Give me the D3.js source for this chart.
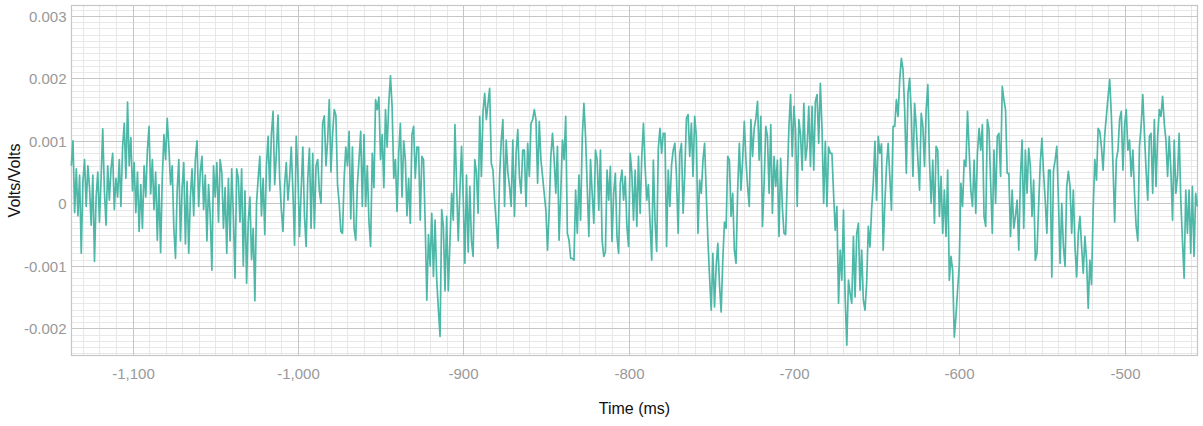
<!DOCTYPE html>
<html>
<head>
<meta charset="utf-8">
<script src="https://cdn.jsdelivr.net/npm/d3@7"></script>
<style>
  html, body { margin: 0; padding: 0; background: #fff; }
  svg { display: block; font-family: "Liberation Sans", Arial, Helvetica, sans-serif; }
</style>
</head>
<body>
<svg id="chart" width="1203" height="426"></svg>
<script>
// Recorded trace, one sample per millisecond starting at startTime.
// Values are in units of 10 µV (multiply by valueUnit to get volts).
const startTime = -1137;
const sampleStep = 1;
const valueUnit = 1e-5;
const signal = [
  60, 100, -15, 55, -20, 45, -80, 35, 70, -5, 60,
  25, -35, 45, -93, 10, 50, -30, 40, 119, 20,
  -35, 60, 5, 55, 80, -10, 40, 10, 70, -5,
  90, 128, 40, 162, 60, 105, 20, 65, -15, 50,
  -45, 30, -40, 60, 10, 85, 123, 15, 70, -10,
  50, -59, 30, -79, 40, 110, 70, 136, 90, 30,
  60, -40, -88, 20, 70, -60, 25, 65, -65, 35,
  -80, 10, 55, -20, 70, 100, -5, 50, 75, -10,
  45, -60, 30, -20, -107, 60, 10, 65, -30, 70,
  50, -40, 25, -80, 40, -60, 55, -20, -120, 55,
  40, -30, 55, -100, 20, -128, -30, 10, -90, -40,
  -156, 0, 40, 75,
  -20, 40, -50, 60, 107, 20, 110, 147, 30, 80,
  141, 40, -10, -45, 30, 65, 5, 40, 90, 20,
  -67, 107, 50, -53, 20, 90, -20, -69, 40, 88,
  -40, 80, -40, 60, 70, 20, 0, 128, 140, 60,
  100, 166, 50, 110, 150, 141, 30, 0, -45, -48,
  40, 90, 60, 115, -25, 90, -40, -59, 30, 70,
  115, -5, 110, -5, 60, -30, -69, 80, 25, 166,
  150, 170, 70, 110, 25, 150, 90, 160, 204, 155,
  40, 70, -13, 80, 128, 10, 100, 70, -20, 40,
  -32, 110, 123, 40, 90, 90, -27, 75, 70, -32,
  -155, -50, -100, -16, -117, -27, -123, -170, -213, -10,
  -37, -140, -21, -140, -60,
  16, -27, 126, 30, -60, 20, 91, 10, -96, 45,
  -78, 27, -60, -85, 70, 50, -16, 139, 43, 147,
  176, 134, 160, 184, 64, 53, 5, -32, -72, 43,
  100, 134, -5, 101, 50, 27, -5, 101, -21, 80,
  118, 43, 16, 85, 85, -5, 96, 43, 128, 134,
  150, 134, 32, 131, 70, 43, 16, -11, -75, -11,
  75, 112, 70, 16, 91, -59, 16, 101, 70, 139,
  -48, -59, -88, -88, -91, 21, -48, 45, -27, 104,
  160, 107, 27, -53, 70, 16, -32, 85, 70, -11,
  85, -59, -85, -78, 53, 5, 59, -61, 16, 48,
  -53, -80, 32, 53, 5, 43, -37, -69, 80, 48,
  -27, 53,
  -37, 75, -16, 75, 128, 60, 5, 30, -32, -91,
  69, -27, -77, 88, 120, 80, 112, 112, -69, 53,
  -5, 61, 85, 96, 43, -48, 80, 96, -16, 48,
  136, 142, 75, 128, 43, 139, 107, -48, 37, 16,
  69, 96, 16, -59, -118, -171, -80, -166, -100, -64,
  -130, -174, -91, -30, -40, 75, 69, -21, 16, -75,
  -96, 21, 96, 21, 69, 131, 69, 27, -5, 134,
  75, 120, 136, 163, 69, 139, -37, 32, 123, 107,
  16, 126, -16, 75, 27, 69, -53, 72, -5, -48,
  -50, 37, 123, 174, 75, 155, 118, -5, 134, 110,
  53, 160, 69, 91, 155, 59, 155, 53, 163, 174,
  96, 192, 120,
  0, 99, -5, 90, 80, 80, 15, -43, -5, -160,
  -75, -123, -11, -150, -227, -123, -144, -160, -53, -150,
  -48, -32, -139, -75, -155, -171, -128, -37, -70, -10,
  32, 99, 5, 107, 80, 95, -75, 0, 59, 96,
  43, -11, 123, 123, 166, 139, 198, 232, 214, 150,
  48, 176, 200, 144, 43, 160, 123, 69, 21, 144,
  123, 59, 150, 190, 69, 0, 69, -32, 91, 85,
  -21, 43, -48, 21, -53, 53, -123, -85, -107, -214,
  -181, -139, -100, 32, -5, 69, 59, 147, 85, 21,
  -5, 69, -16, 80, 120, 85, 126, -21, -37, 134,
  118, 32, -48, 85, 0, 107, 112, 43, 187, 166,
  150, 48, 48, -53, 21,
  -40, -20, 5, -75, 40, 101, -40, 85, 16, 88,
  59, -21, 37, -91, -80, -5, 64, 104, 48, 5,
  -48, 53, 53, -118, 53, 69, 91, 5, -96, 0,
  -69, -101, 27, 51, 27, -48, 21, -69, -118, -48,
  -21, -69, -112, -53, -91, -168, -91, -130, -10, 70,
  37, 120, 115, 90, 53, 110, 140, 170, 198, 140,
  60, -30, 70, 85, 135, 147, 53, 125, 150, 85,
  101, 43, 85, 16, -37, -60, 91, 123, 174, 112,
  53, 5, 107, 112, 16, 134, 27, 107, 150, 139,
  171, 128, 101, 43, 107, 53, -27, 101, 16, 43,
  112, 5, -59, -120, 21, -48, 21, -80, 27, -85,
  16, -5
];

// Axis ticks and their printed labels
const xTicks = [-1100, -1000, -900, -800, -700, -600, -500];
const xTickLabels = ["-1,100", "-1,000", "-900", "-800", "-700", "-600", "-500"];
const yTicks = [0.003, 0.002, 0.001, 0, -0.001, -0.002];
const yTickLabels = ["0.003", "0.002", "0.001", "0", "-0.001", "-0.002"];
const xTitle = "Time (ms)";
const yTitle = "Volts/Volts";

const xDomain = [-1137.2, -455.6];
const yDomain = [-0.002443, 0.003173];

const svg = d3.select("#chart");
const panel = { left: 71, right: 1198, top: 5, bottom: 356 };
const plotW = panel.right - panel.left;
const plotH = panel.bottom - panel.top;

const x = d3.scaleLinear().domain(xDomain).range([panel.left, panel.right]);
const y = d3.scaleLinear().domain(yDomain).range([panel.bottom, panel.top]);

const crisp = v => Math.round(v) + 0.5;

// Minor grid: every 10 ms and every 0.1 mV
const minorX = d3.range(-1130, -455, 10).filter(v => !xTicks.includes(v));
const minorY = d3.range(-24, 32, 1).map(k => k / 10000).filter(v => !yTicks.some(t => Math.abs(t - v) < 1e-9));

const grid = svg.append("g");
grid.selectAll("line.minor-x").data(minorX).join("line")
  .attr("x1", d => crisp(x(d))).attr("x2", d => crisp(x(d)))
  .attr("y1", panel.top).attr("y2", panel.bottom)
  .attr("stroke", "#e8e8e8").attr("stroke-width", 1);
grid.selectAll("line.minor-y").data(minorY).join("line")
  .attr("y1", d => crisp(y(d))).attr("y2", d => crisp(y(d)))
  .attr("x1", panel.left).attr("x2", panel.right)
  .attr("stroke", "#e8e8e8").attr("stroke-width", 1);

// Major grid and tick labels through d3 axes
const xAxis = d3.axisBottom(x)
  .tickValues(xTicks)
  .tickSize(plotH)
  .tickFormat((d, i) => xTickLabels[i]);
const gx = svg.append("g").attr("transform", `translate(0,${panel.top})`).call(xAxis);
gx.select(".domain").remove();
gx.selectAll(".tick").attr("transform", d => `translate(${crisp(x(d))},0)`);
gx.selectAll(".tick line").attr("stroke", "#c6c6c6").attr("stroke-width", 1);
gx.selectAll(".tick text")
  .attr("y", 379 - panel.top).attr("dy", null)
  .attr("fill", "#999").attr("font-size", 15)
  .attr("font-family", "'Liberation Sans', Arial, sans-serif");

const yAxis = d3.axisLeft(y)
  .tickValues(yTicks)
  .tickSize(-plotW)
  .tickFormat((d, i) => yTickLabels[i]);
const gy = svg.append("g").attr("transform", `translate(${panel.left},0)`).call(yAxis);
gy.select(".domain").remove();
gy.selectAll(".tick").attr("transform", d => `translate(0,${crisp(y(d))})`);
gy.selectAll(".tick line").attr("stroke", "#c6c6c6").attr("stroke-width", 1);
gy.selectAll(".tick text")
  .attr("x", -4.5).attr("dy", "0.35em")
  .attr("fill", "#999").attr("font-size", 15)
  .attr("font-family", "'Liberation Sans', Arial, sans-serif");

// Panel border
svg.append("rect")
  .attr("x", panel.left + 0.5).attr("y", panel.top + 0.5)
  .attr("width", plotW - 1).attr("height", plotH - 1)
  .attr("fill", "none").attr("stroke", "#c6c6c6").attr("stroke-width", 1.2);

// Signal trace
const points = signal.map((v, i) => ({ t: startTime + i * sampleStep, v: v * valueUnit }));
const line = d3.line().x(d => x(d.t)).y(d => y(d.v));
svg.append("path")
  .datum(points)
  .attr("d", line)
  .attr("fill", "none")
  .attr("stroke", "#4db8a7")
  .attr("stroke-width", 1.7)
  .attr("stroke-linejoin", "round");

// Axis titles
svg.append("text")
  .attr("x", (panel.left + panel.right) / 2)
  .attr("y", 414)
  .attr("text-anchor", "middle")
  .attr("font-size", 16)
  .attr("fill", "#111")
  .text(xTitle);
svg.append("text")
  .attr("transform", `translate(20,${(panel.top + panel.bottom) / 2}) rotate(-90)`)
  .attr("text-anchor", "middle")
  .attr("font-size", 16)
  .attr("fill", "#111")
  .text(yTitle);
</script>
</body>
</html>
